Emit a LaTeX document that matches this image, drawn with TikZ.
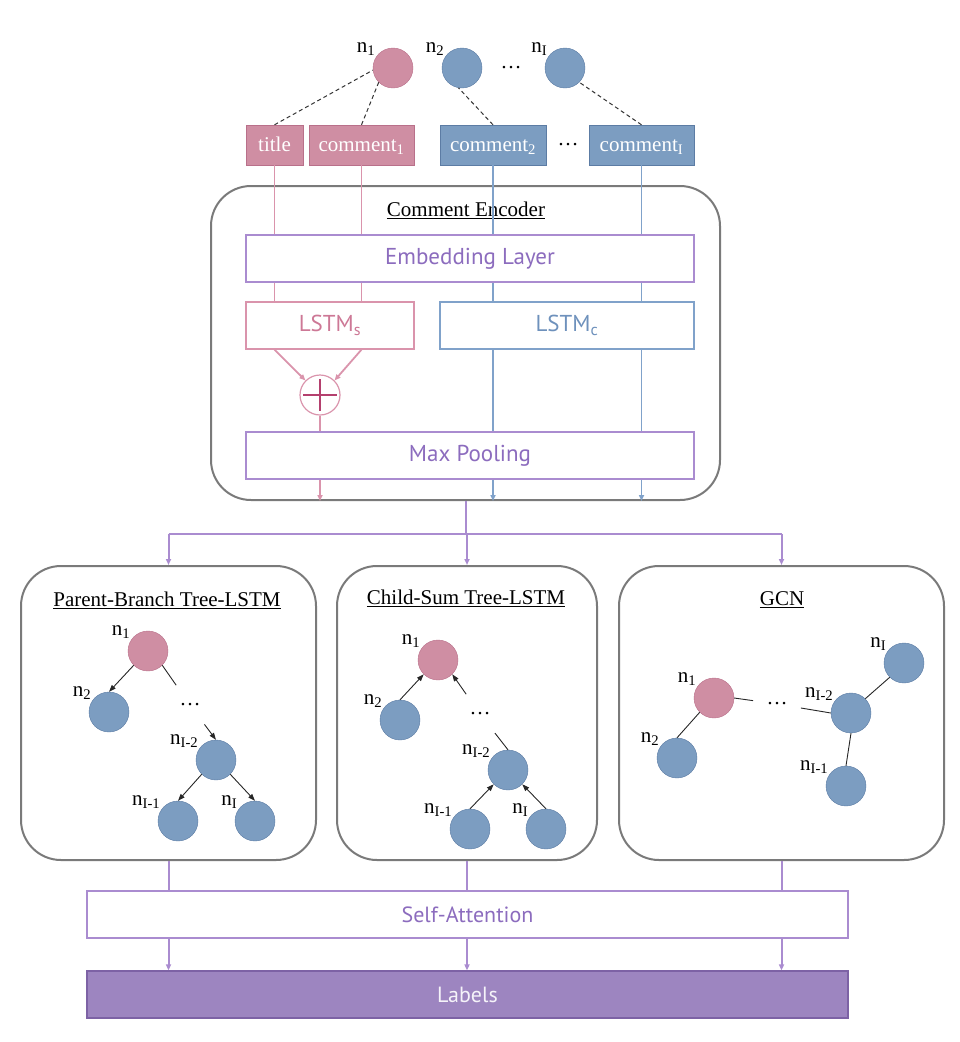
\documentclass[tikz,border=0pt]{standalone}
\usepackage{fontspec}
\setmainfont{Liberation Serif}
\newfontfamily\layerfont{PT Sans}
\usetikzlibrary{arrows.meta, positioning, calc}

\definecolor{nodepink}{RGB}{207,142,163}
\definecolor{pinkedge}{RGB}{185,112,138}
\definecolor{pinkline}{RGB}{218,148,172}
\definecolor{pinktext}{RGB}{205,120,150}
\definecolor{plusred}{RGB}{180,64,110}
\definecolor{nodeblue}{RGB}{124,157,193}
\definecolor{blueedge}{RGB}{92,124,164}
\definecolor{blueline}{RGB}{128,162,202}
\definecolor{bluetext}{RGB}{110,145,188}
\definecolor{layerpurple}{RGB}{170,140,208}
\definecolor{textpurple}{RGB}{140,108,190}
\definecolor{labelfill}{RGB}{157,133,192}
\definecolor{labeledge}{RGB}{125,98,165}
\definecolor{panelgray}{RGB}{122,122,122}

\tikzset{
  rootnode/.style={circle, draw=pinkedge, fill=nodepink, minimum size=40pt, inner sep=0pt},
  leafnode/.style={circle, draw=blueedge, fill=nodeblue, minimum size=40pt, inner sep=0pt},
  nlabel/.style={label={[inner sep=1pt]145:#1}},
  dotsnode/.style={circle, minimum size=48pt, inner sep=0pt},
  inpink/.style={draw=pinkedge, fill=nodepink, text=white, minimum height=40pt, inner sep=2pt,
    text height=15pt, text depth=2pt},
  inblue/.style={draw=blueedge, fill=nodeblue, text=white, minimum height=40pt, inner sep=2pt,
    text height=15pt, text depth=2pt},
  panel/.style={draw=panelgray, line width=2pt, rounded corners=40pt},
  layerbox/.style={draw=#1, line width=1.2pt, fill=white, minimum height=47pt,
    font=\layerfont\fontsize{23}{27}\selectfont},
  pinkflow/.style={draw=pinkline, line width=1.8pt},
  blueflow/.style={draw=blueline, line width=1.8pt},
  purpleflow/.style={draw=layerpurple, line width=2pt},
  tipsmall/.style={-{Triangle[length=6pt,width=5pt]}},
  treeedge/.style={draw=black!85, line width=0.9pt},
  treearrow/.style={-{Triangle[length=7pt,width=5pt]}},
  thread/.style={draw=black!80, line width=1pt, dash pattern=on 4pt off 3pt}
}

\begin{document}
\begin{tikzpicture}[x=1pt, y=-1pt, font=\fontsize{21}{25}\selectfont]
\useasboundingbox (0,0) rectangle (960,1042);

% thread nodes and their texts
\node[rootnode, nlabel=n\textsubscript{1}] (tn1) at (393,68) {};
\node[leafnode, nlabel=n\textsubscript{2}] (tn2) at (462,68) {};
\node (tdots) at (511,68) {\dots};
\node[leafnode, nlabel=n\textsubscript{I}] (tnI) at (565,68) {};

\node[inpink, minimum width=57pt] (title) at (274.5,145) {title};
\node[inpink, minimum width=105pt] (c1) at (361.5,145) {comment\textsubscript{1}};
\node[inblue, minimum width=106pt] (c2) at (493,145) {comment\textsubscript{2}};
\node (cdots) at (568,145) {\dots};
\node[inblue, minimum width=105pt] (cI) at (641.5,145) {comment\textsubscript{I}};

\draw[thread] (title.north) -- (tn1.186);
\draw[thread] (c1.north) -- (tn1.south west);
\draw[thread] (c2.north) -- (tn2.260);
\draw[thread] (cI.north) -- (tnI.south east);

% comment encoder
\node[panel, minimum width=509pt, minimum height=314pt] (enc) at (465.5,343) {};
\node (enctitle) at (466,210) {\underline{Comment Encoder}};
\node[layerbox=layerpurple, text=textpurple, minimum width=448pt] (embed) at (470,258.5) {Embedding Layer};
\node[layerbox=pinkline, text=pinktext, minimum width=168pt] (lstms) at (330,325.5) {LSTM\textsubscript{s}};
\node[layerbox=blueline, text=bluetext, minimum width=254pt] (lstmc) at (567,325.5) {LSTM\textsubscript{c}};
\node[circle, draw=pinkline, line width=1.2pt, minimum size=40pt, inner sep=0pt] (plus) at (320,395) {};
\draw[plusred, line width=2.5pt] ([xshift=-17pt]plus.center) -- ([xshift=17pt]plus.center)
  ([yshift=16pt]plus.center) -- ([yshift=-16pt]plus.center);
\node[layerbox=layerpurple, text=textpurple, minimum width=448pt] (pool) at (470,455.5) {Max Pooling};

\foreach \s in {title,c1} {
  \draw[pinkflow] (\s.south) -- (\s.south |- embed.north)
    (\s.south |- embed.south) -- (\s.south |- lstms.north);
}
\draw[pinkflow, tipsmall] (title.south |- lstms.south) -- (plus.north west);
\draw[pinkflow, tipsmall] (c1.south |- lstms.south) -- (plus.north east);
\draw[pinkflow] (plus.south) -- (plus.south |- pool.north);
\draw[pinkflow, tipsmall] (plus.south |- pool.south) -- (plus.south |- enc.south);
\foreach \s in {c2,cI} {
  \draw[blueflow] (\s.south) -- (\s.south |- embed.north)
    (\s.south |- embed.south) -- (\s.south |- lstmc.north)
    (\s.south |- lstmc.south) -- (\s.south |- pool.north);
  \draw[blueflow, tipsmall] (\s.south |- pool.south) -- (\s.south |- enc.south);
}

% three tree encoders
\node[panel, minimum width=295pt, minimum height=294pt] (pb) at (168.5,713) {};
\node[panel, minimum width=260pt, minimum height=294pt] (cs) at (467,713) {};
\node[panel, minimum width=325pt, minimum height=294pt] (gcn) at (781.5,713) {};
\node (pbtitle) at (167,600) {\underline{Parent-Branch Tree-LSTM}};
\node (cstitle) at (466,598) {\underline{Child-Sum Tree-LSTM}};
\node (gcntitle) at (782,600) {\underline{GCN}};

\coordinate (split) at ($(enc.south)+(0,33)$);
\draw[purpleflow] (enc.south) -- (split);
\draw[purpleflow] (pb.north |- split) -- (gcn.north |- split);
\foreach \p in {pb,cs,gcn}
  \draw[purpleflow, tipsmall] (\p.north |- split) -- (\p.north);

% parent-branch
\node[rootnode, nlabel=n\textsubscript{1}] (pa1) at (148,651) {};
\node[leafnode, nlabel=n\textsubscript{2}] (pa2) at (109,712) {};
\node[dotsnode] (padots) at (190,705) {\dots};
\node[leafnode, nlabel=n\textsubscript{I-2}] (pa3) at (216,760) {};
\node[leafnode, nlabel=n\textsubscript{I-1}] (pa4) at (178,821) {};
\node[leafnode, nlabel=n\textsubscript{I}] (pa5) at (255,821) {};
\draw[treeedge, treearrow] (pa1.south west) -- (pa2.north);
\draw[treeedge] (pa1.south east) -- (padots);
\draw[treeedge, treearrow] (padots) -- (pa3.north);
\draw[treeedge, treearrow] (pa3.south west) -- (pa4.north);
\draw[treeedge, treearrow] (pa3.south east) -- (pa5.north);

% child-sum
\node[rootnode, nlabel=n\textsubscript{1}] (cs1) at (438,660) {};
\node[leafnode, nlabel=n\textsubscript{2}] (cs2) at (400,720) {};
\node[dotsnode] (csdots) at (480,714) {\dots};
\node[leafnode, nlabel=n\textsubscript{I-2}] (cs3) at (508,770) {};
\node[leafnode, nlabel=n\textsubscript{I-1}] (cs4) at (470,829) {};
\node[leafnode, nlabel=n\textsubscript{I}] (cs5) at (546,829) {};
\draw[treeedge, treearrow] (cs2.north) -- (cs1.south west);
\draw[treeedge, treearrow] (csdots) -- (cs1.south east);
\draw[treeedge] (csdots) -- (cs3.north);
\draw[treeedge, treearrow] (cs4.north) -- (cs3.south west);
\draw[treeedge, treearrow] (cs5.north) -- (cs3.south east);

% gcn
\node[rootnode, nlabel=n\textsubscript{1}] (gc1) at (714,698) {};
\node[leafnode, nlabel=n\textsubscript{2}] (gc2) at (677,758) {};
\node[dotsnode] (gcdots) at (777,704) {\dots};
\node[leafnode, nlabel=n\textsubscript{I-2}] (gc3) at (851,713) {};
\node[leafnode, nlabel=n\textsubscript{I-1}] (gc4) at (846,786) {};
\node[leafnode, nlabel=n\textsubscript{I}] (gc5) at (904,663) {};
\draw[treeedge] (gc1.south west) -- (gc2.north);
\draw[treeedge] (gc1.east) -- (gcdots);
\draw[treeedge] (gcdots) -- (gc3.west);
\draw[treeedge] (gc3.north east) -- (gc5.south west);
\draw[treeedge] (gc3.south) -- (gc4.north);

% attention and output
\node[layerbox=layerpurple, text=textpurple, minimum width=761pt,
  font=\layerfont\fontsize{22}{26}\selectfont] (attn) at (467.5,914.5) {Self-Attention};
\node[draw=labeledge, line width=1.2pt, fill=labelfill, text=white!90!labelfill, minimum width=761pt,
  minimum height=47pt, font=\layerfont\fontsize{22}{26}\selectfont] (labels) at (467.5,994.5) {Labels};
\foreach \p in {pb,cs,gcn} {
  \draw[purpleflow] (\p.south) -- (\p.south |- attn.north);
  \draw[purpleflow, tipsmall] (\p.south |- attn.south) -- (\p.south |- labels.north);
}
\end{tikzpicture}
\end{document}
